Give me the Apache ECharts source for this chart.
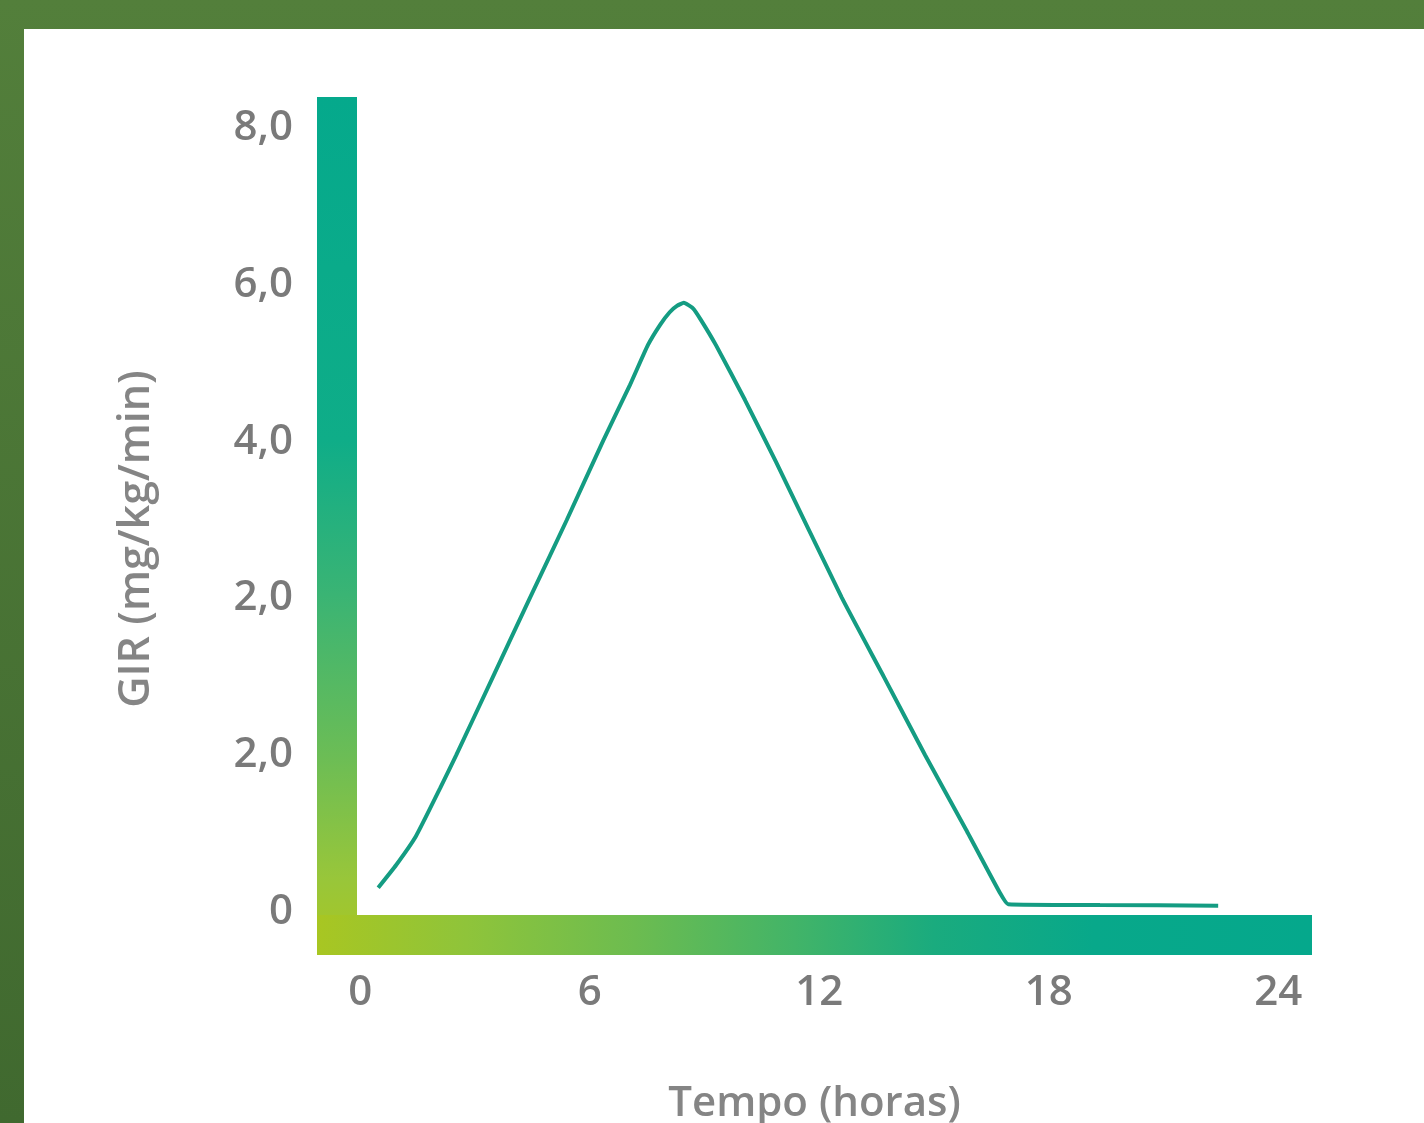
<!DOCTYPE html>
<html>
<head>
<meta charset="utf-8">
<script src="https://cdn.jsdelivr.net/npm/echarts@6/dist/echarts.min.js"></script>
<style>
  html, body { margin: 0; padding: 0; width: 1424px; height: 1123px; overflow: hidden; }
  body { background: linear-gradient(to bottom, #537f3b, #40692f); position: relative; }
  #panel { position: absolute; left: 24px; top: 29px; right: 0; bottom: 0; background: #ffffff; }
  #chart { position: absolute; left: 0; top: 0; width: 1424px; height: 1123px; }
</style>
</head>
<body>
<div id="panel"></div>
<div id="chart"></div>
<script>
// Time (hours)
const hours = [0.47, 0.94, 1.46, 2.09, 2.51, 3.47, 4.44, 5.40, 6.35, 7.05, 7.52, 7.84, 8.09, 8.28, 8.46, 8.70, 8.91, 9.30, 10.06, 10.87, 12.59, 13.69, 14.77, 15.84, 16.73, 16.94, 19.34, 22.43];
// GIR curve, in axis positions (tick index * 2)
const gir = [0.31, 0.60, 0.97, 1.58, 2.00, 3.00, 4.01, 5.00, 6.01, 6.72, 7.23, 7.49, 7.65, 7.73, 7.77, 7.70, 7.55, 7.23, 6.53, 5.74, 4.01, 3.00, 2.00, 1.05, 0.24, 0.10, 0.09, 0.08];

const xTickValues = [0, 6, 12, 18, 24];
const yTickValues = [0, 2, 4, 6, 8, 10];
const yTickLabels = ['0', '2,0', '2,0', '4,0', '6,0', '8,0'];

const seriesData = hours.map((h, i) => [h, gir[i]]);

const chart = echarts.init(document.getElementById('chart'), null, { renderer: 'canvas' });

const yGrad = new echarts.graphic.LinearGradient(0, 0, 0, 1, [
  { offset: 0, color: '#05a98c' },
  { offset: 0.40, color: '#0fad88' },
  { offset: 0.58, color: '#3ab474' },
  { offset: 0.77, color: '#6cbd55' },
  { offset: 0.91, color: '#98c63a' },
  { offset: 1, color: '#a9c622' }
]);
const xGrad = new echarts.graphic.LinearGradient(0, 0, 1, 0, [
  { offset: 0, color: '#a8c622' },
  { offset: 0.15, color: '#8fc43a' },
  { offset: 0.32, color: '#6cbc50' },
  { offset: 0.48, color: '#42b468' },
  { offset: 0.62, color: '#1aab7e' },
  { offset: 0.78, color: '#08a88a' },
  { offset: 1, color: '#05a88c' }
]);

const font = '"Open Sans", "Noto Sans", sans-serif';

chart.setOption({
  backgroundColor: 'transparent',
  animation: false,
  grid: { left: 337, right: 132, top: 117, bottom: 188, containLabel: false, outerBoundsMode: 'none' },
  xAxis: {
    type: 'value',
    min: -0.607,
    max: 24.36,
    name: 'Tempo (horas)',
    nameLocation: 'middle',
    nameGap: 148,
    nameTextStyle: { color: '#858585', fontSize: 42, fontWeight: 600, fontFamily: font },
    axisLine: { show: true, onZero: false, lineStyle: { color: xGrad, width: 40, cap: 'square' } },
    axisTick: { show: false },
    splitLine: { show: false },
    axisLabel: {
      customValues: xTickValues,
      color: '#7a7a7a',
      fontSize: 42,
      fontWeight: 600,
      fontFamily: font,
      margin: 37
    }
  },
  yAxis: {
    type: 'value',
    min: -0.293,
    max: 10.14,
    name: 'GIR (mg/kg/min)',
    nameLocation: 'middle',
    nameGap: 179,
    nameRotate: 90,
    nameTextStyle: { color: '#858585', fontSize: 43, fontWeight: 600, fontFamily: font, padding: [0, 26, 0, 0] },
    axisLine: { show: true, onZero: false, lineStyle: { color: yGrad, width: 40, cap: 'square' } },
    axisTick: { show: false },
    splitLine: { show: false },
    axisLabel: {
      customValues: yTickValues,
      formatter: (v) => yTickLabels[Math.round(v / 2)],
      color: '#7a7a7a',
      fontSize: 42,
      fontWeight: 600,
      fontFamily: font,
      margin: 44
    }
  },
  series: [{
    type: 'line',
    data: seriesData,
    smooth: 0.15,
    showSymbol: false,
    lineStyle: { color: '#149c82', width: 4 },
    z: 1
  }]
});
</script>
</body>
</html>
